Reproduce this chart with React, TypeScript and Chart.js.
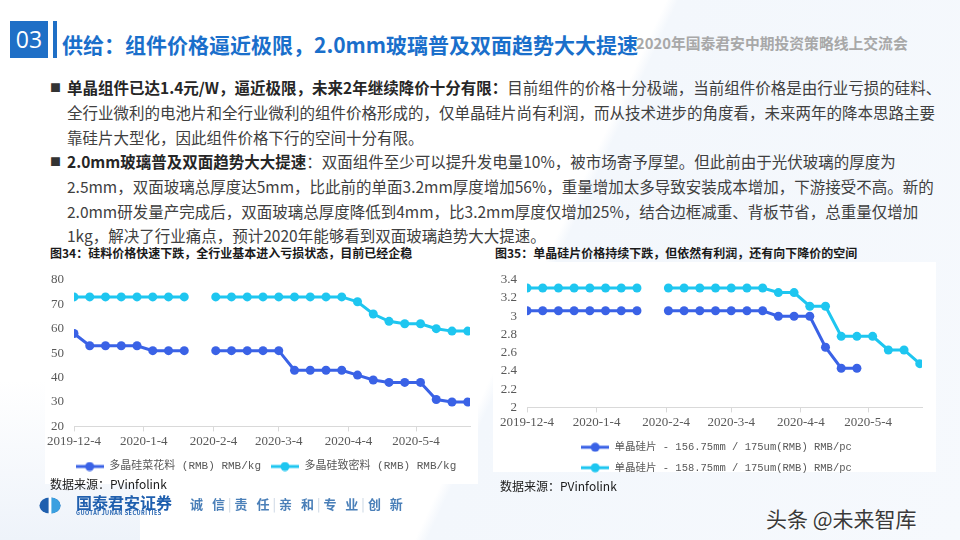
import React, { useEffect, useRef } from "react";
import { Chart, registerables } from "chart.js";

Chart.register(...registerables);

// ---- data ----
const dates = [
  "2019-12-04", "2019-12-11", "2019-12-18", "2019-12-25", "2020-01-01", "2020-01-08",
  "2020-01-15", "2020-01-22", "2020-01-29", "2020-02-05", "2020-02-12", "2020-02-19",
  "2020-02-26", "2020-03-04", "2020-03-11", "2020-03-18", "2020-03-25", "2020-04-01",
  "2020-04-08", "2020-04-15", "2020-04-22", "2020-04-29", "2020-05-06", "2020-05-13",
  "2020-05-20", "2020-05-27",
];
const tickLabels = ["2019-12-4", "2020-1-4", "2020-2-4", "2020-3-4", "2020-4-4", "2020-5-4"];

const polyCauliflower = [58, 53, 53, 53, 53, 51, 51, 51, null, 51, 51, 51, 51, 51, 43, 43, 43, 43, 41, 39, 38, 38, 38, 31, 30, 30];
const polyDense = [73, 73, 73, 73, 73, 73, 73, 73, null, 73, 73, 73, 73, 73, 73, 73, 73, 73, 71, 66, 63, 62, 62, 60, 59, 59];
const wafer156 = [3.06, 3.06, 3.06, 3.06, 3.06, 3.06, 3.06, 3.06, null, 3.06, 3.06, 3.06, 3.06, 3.06, 3.06, 3.06, 3.0, 3.0, 3.0, 2.66, 2.43, 2.43, null, null, null, null];
const wafer158 = [3.31, 3.31, 3.31, 3.31, 3.31, 3.31, 3.31, 3.31, null, 3.31, 3.31, 3.31, 3.31, 3.31, 3.31, 3.31, 3.26, 3.26, 3.11, 3.11, 2.78, 2.78, 2.78, 2.63, 2.63, 2.48];

const seriesNames1 = ["多晶硅菜花料 (RMB) RMB/kg", "多晶硅致密料 (RMB) RMB/kg"];
const seriesNames2 = ["单晶硅片 - 156.75mm / 175um(RMB) RMB/pc", "单晶硅片 - 158.75mm / 175um(RMB) RMB/pc"];

const DARK = "#3a62e6";
const CYAN = "#1ec6f0";

const dayOf = (s: string) => {
  const p = s.split("-").map(Number);
  return (Date.UTC(p[0], p[1] - 1, p[2]) - Date.UTC(2019, 11, 4)) / 86400000;
};
const tickValues = tickLabels.map(dayOf);
const toPoints = (vals: (number | null)[]) => dates.map((d, i) => ({ x: dayOf(d), y: vals[i] }));

const legendImg = (color: string) => {
  const c = document.createElement("canvas");
  c.width = 28;
  c.height = 10;
  const g = c.getContext("2d")!;
  g.strokeStyle = color;
  g.lineWidth = 3;
  g.beginPath();
  g.moveTo(0, 5);
  g.lineTo(28, 5);
  g.stroke();
  g.fillStyle = color;
  g.beginPath();
  g.arc(14, 5, 4.5, 0, Math.PI * 2);
  g.fill();
  return c;
};

// shifts the legend block horizontally
const legendShift = {
  id: "legendShift",
  afterLayout(chart: any, _args: any, opts: any) {
    const d = opts && opts.dx ? opts.dx : 0;
    if (chart.legend && d) {
      chart.legend.left += d;
      chart.legend.right += d;
    }
  },
};

const tickFont = { family: "'Liberation Serif', 'DejaVu Serif', serif", size: 13 };

function makeConfig(
  names: string[],
  series: (number | null)[][],
  yMin: number,
  yMax: number,
  yStep: number,
  yWidth: number,
  padding: any,
  legendSize: number,
  dx: number,
  yFmt: (v: number) => string
): any {
  const colors = [DARK, CYAN];
  return {
    type: "line",
    data: {
      datasets: series.map((s, i) => ({
        label: names[i],
        data: toPoints(s),
        borderColor: colors[i],
        backgroundColor: colors[i],
        borderWidth: 3,
        pointRadius: 4.5,
        pointBorderWidth: 0,
        pointBackgroundColor: colors[i],
        tension: 0,
        spanGaps: false,
      })),
    },
    plugins: [legendShift],
    options: {
      animation: false,
      responsive: false,
      maintainAspectRatio: false,
      layout: { padding },
      plugins: {
        legendShift: { dx },
        tooltip: { enabled: false },
        legend: {
          position: "bottom",
          labels: {
            usePointStyle: true,
            pointStyleWidth: 28,
            boxHeight: 10,
            padding: 10,
            color: "#595959",
            font: { family: "'Liberation Mono', 'Noto Sans CJK SC', monospace", size: legendSize },
            generateLabels: (chart: any) =>
              chart.data.datasets.map((ds: any, i: number) => ({
                text: ds.label,
                pointStyle: legendImg(ds.borderColor),
                fillStyle: ds.borderColor,
                strokeStyle: ds.borderColor,
                lineWidth: 0,
                hidden: false,
                datasetIndex: i,
                fontColor: "#595959",
              })),
          },
        },
      },
      scales: {
        x: {
          type: "linear",
          min: 0,
          max: 176,
          afterBuildTicks: (s: any) => {
            s.ticks = tickValues.map((v) => ({ value: v }));
          },
          ticks: {
            autoSkip: false,
            maxRotation: 0,
            color: "#595959",
            font: tickFont,
            padding: 2,
            callback: (_v: any, idx: number) => tickLabels[idx],
          },
          grid: { drawOnChartArea: false, tickLength: 5, color: "#d9d9d9" },
          border: { display: true, color: "#d9d9d9", width: 1 },
        },
        y: {
          min: yMin,
          max: yMax,
          afterFit: (s: any) => {
            s.width = yWidth;
          },
          ticks: {
            stepSize: yStep,
            autoSkip: false,
            color: "#595959",
            font: tickFont,
            padding: 10,
            callback: (v: any) => yFmt(Number(v)),
          },
          grid: { display: false, drawTicks: false },
          border: { display: false },
        },
      },
    },
  };
}

function LineChart(props: { config: any; style: React.CSSProperties; w: number; h: number }) {
  const ref = useRef<HTMLCanvasElement>(null);
  useEffect(() => {
    const ch = new Chart(ref.current!, props.config);
    return () => ch.destroy();
  }, []);
  return <canvas ref={ref} width={props.w} height={props.h} style={{ position: "absolute", ...props.style }} />;
}

const body: React.CSSProperties = {
  position: "absolute",
  left: 67,
  whiteSpace: "nowrap",
  fontSize: 15.5,
  color: "#404040",
  fontFamily: "'Noto Sans CJK SC', sans-serif",
  lineHeight: "20px",
};

const sep = <span style={{ color: "#c8d4e2", fontWeight: 400 }}>|</span>;

export default function App() {
  const cfg1 = makeConfig(seriesNames1, [polyCauliflower, polyDense], 20, 80, 10, 34, { top: 17, right: 10, left: 0, bottom: 2 }, 11, 11, (v) => String(v));
  const cfg2 = makeConfig(seriesNames2, [wafer156, wafer158], 2, 3.4, 0.2, 34, { top: 14, right: 11, left: 0, bottom: 2 }, 10.5, 9, (v) => String(+v.toFixed(1)));

  const lines: [string, string][] = [
    ["单晶组件已达1.4元/W，逼近极限，未来2年继续降价十分有限：", "目前组件的价格十分极端，当前组件价格是由行业亏损的硅料、"],
    ["", "全行业微利的电池片和全行业微利的组件价格形成的，仅单晶硅片尚有利润，而从技术进步的角度看，未来两年的降本思路主要"],
    ["", "靠硅片大型化，因此组件价格下行的空间十分有限。"],
    ["2.0mm玻璃普及双面趋势大大提速", "：双面组件至少可以提升发电量10%，被市场寄予厚望。但此前由于光伏玻璃的厚度为"],
    ["", "2.5mm，双面玻璃总厚度达5mm，比此前的单面3.2mm厚度增加56%，重量增加太多导致安装成本增加，下游接受不高。新的"],
    ["", "2.0mm研发量产完成后，双面玻璃总厚度降低到4mm，比3.2mm厚度仅增加25%，结合边框减重、背板节省，总重量仅增加"],
    ["", "1kg，解决了行业痛点，预计2020年能够看到双面玻璃趋势大大提速。"],
  ];
  const lineY = [87, 112, 137, 161, 186, 211, 235];

  return (
    <div
      style={{
        position: "fixed",
        left: 0,
        top: 0,
        width: 960,
        height: 540,
        overflow: "hidden",
        fontFamily: "'Noto Sans CJK SC', sans-serif",
        background:
          "linear-gradient(115deg, #ffffff 0%, #ffffff 55%, #f3f7fc 56%, #f6f9fd 100%)",
      }}
    >
      <div style={{ position: "absolute", left: 0, top: 380, width: 140, height: 160, background: "linear-gradient(180deg, rgba(238,243,250,0) 0%, #eef3fa 100%)" }} />
      {/* header */}
      <div style={{ position: "absolute", left: 10, top: 21, width: 38, height: 37, background: "#1f6fc6", color: "#fff", fontSize: 23, lineHeight: "37px", textAlign: "center", fontFamily: "'Open Sans', sans-serif" }}>03</div>
      <div style={{ position: "absolute", left: 53, top: 21, width: 4, height: 37, background: "#1f6fc6" }} />
      <div style={{ position: "absolute", left: 62, top: 30, fontSize: 21, fontWeight: 700, color: "#1a6fcb", lineHeight: "28px", whiteSpace: "nowrap" }}>
        供给：组件价格逼近极限，2.0mm玻璃普及双面趋势大大提速
      </div>
      <div style={{ position: "absolute", left: 636, top: 33, fontSize: 14.8, fontWeight: 700, color: "#a8a8a8", lineHeight: "20px", whiteSpace: "nowrap" }}>
        2020年国泰君安中期投资策略线上交流会
      </div>

      {/* body text */}
      <div style={{ position: "absolute", left: 50, top: 79, fontSize: 11, color: "#333", lineHeight: "16px" }}>■</div>
      <div style={{ position: "absolute", left: 50, top: 153, fontSize: 11, color: "#333", lineHeight: "16px" }}>■</div>
      {lines.map((l, i) => (
        <div key={i} style={{ ...body, top: lineY[i] - 10 }}>
          {l[0] ? <b style={{ color: "#262626" }}>{l[0]}</b> : null}
          {l[1]}
        </div>
      ))}

      {/* chart panels */}
      <div style={{ position: "absolute", left: 45, top: 262, width: 433, height: 222, background: "#fff" }} />
      <div style={{ position: "absolute", left: 493, top: 262, width: 443, height: 210, background: "#fff" }} />

      <div style={{ position: "absolute", left: 50, top: 244, fontSize: 12, fontWeight: 700, color: "#1a1a1a", lineHeight: "18px", whiteSpace: "nowrap" }}>
        图34：硅料价格快速下跌，全行业基本进入亏损状态，目前已经企稳
      </div>
      <div style={{ position: "absolute", left: 495, top: 244, fontSize: 12, fontWeight: 700, color: "#1a1a1a", lineHeight: "18px", whiteSpace: "nowrap" }}>
        图35：单晶硅片价格持续下跌，但依然有利润，还有向下降价的空间
      </div>

      <LineChart config={cfg1} w={440} h={222} style={{ left: 40, top: 262 }} />
      <LineChart config={cfg2} w={440} h={223} style={{ left: 493, top: 262 }} />

      <div style={{ position: "absolute", left: 50, top: 476, fontSize: 12, color: "#1a1a1a", lineHeight: "16px", whiteSpace: "nowrap" }}>数据来源：PVinfolink</div>
      <div style={{ position: "absolute", left: 500, top: 478, fontSize: 12, color: "#1a1a1a", lineHeight: "16px", whiteSpace: "nowrap" }}>数据来源：PVinfolink</div>

      {/* footer logo */}
      <svg style={{ position: "absolute", left: 39, top: 497 }} width={22} height={17} viewBox="0 0 22 17">
        <ellipse cx={11} cy={8.5} rx={10.5} ry={8} fill="#1f5fae" />
        <path d="M11 0.5 A10.5 8 0 0 1 11 16.5 Z" fill="#3aa0e0" />
        <rect x={9.6} y={0} width={2.8} height={17} fill="#fff" />
      </svg>
      <div style={{ position: "absolute", left: 76, top: 493, fontSize: 16, fontWeight: 700, color: "#1f5fae", lineHeight: "18px", whiteSpace: "nowrap" }}>国泰君安证券</div>
      <div style={{ position: "absolute", left: 76, top: 510, fontSize: 5.5, fontWeight: 700, color: "#1f5fae", lineHeight: "7px", whiteSpace: "nowrap", letterSpacing: 0.5 }}>GUOTAI JUNAN SECURITIES</div>
      <div style={{ position: "absolute", left: 190, top: 496, fontSize: 13, fontWeight: 700, color: "#4a7fb8", lineHeight: "16px", whiteSpace: "nowrap", letterSpacing: 3 }}>
        诚 信{sep}责 任{sep}亲 和{sep}专 业{sep}创 新
      </div>

      {/* watermark */}
      <div style={{ position: "absolute", left: 766, top: 505, fontSize: 21, color: "#3a3a3a", lineHeight: "26px", whiteSpace: "nowrap", textShadow: "0 0 2px #fff, 1px 1px 1px #fff" }}>头条 @未来智库</div>
    </div>
  );
}
